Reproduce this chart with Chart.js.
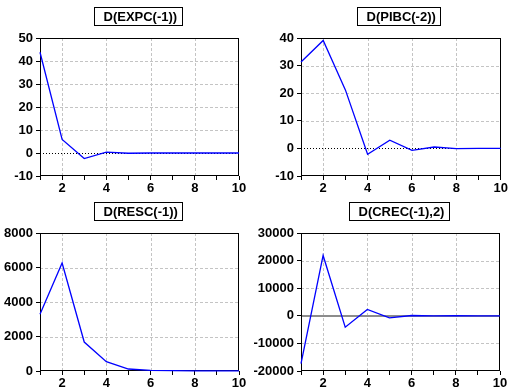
<!DOCTYPE html>
<html>
<head>
<meta charset="utf-8">
<script src="https://cdn.jsdelivr.net/npm/chart.js@4"></script>
<style>
  html, body { margin: 0; padding: 0; background: #fff; }
  #wrap { position: relative; width: 509px; height: 391px; overflow: hidden; background: #fff; }
  canvas { position: absolute; display: block; }
</style>
</head>
<body>
<div id="wrap">
  <canvas id="c1" width="254" height="195" style="left:0px;top:0px;"></canvas>
  <canvas id="c2" width="265" height="195" style="left:244px;top:0px;"></canvas>
  <canvas id="c3" width="254" height="196" style="left:0px;top:195px;"></canvas>
  <canvas id="c4" width="265" height="196" style="left:244px;top:195px;"></canvas>
</div>
<script>
// ---- data ----
const periods = [1, 2, 3, 4, 5, 6, 7, 8, 9, 10];
const titles = ['D(EXPC(-1))', 'D(PIBC(-2))', 'D(RESC(-1))', 'D(CREC(-1),2)'];
const expcResp = [43.8, 5.9, -2.4, 0.4, -0.1, 0.0, 0.0, 0.0, 0.0, 0.0];
const pibcResp = [31.3, 39.1, 21.2, -2.1, 3.0, -0.7, 0.5, -0.1, 0.0, 0.0];
const rescResp = [3290, 6260, 1680, 540, 115, 40, 20, 10, 5, 2];
const crecResp = [-17350, 21850, -4130, 2300, -730, 100, -20, 10, 0, 0];
const yMins = [-10, -10, 0, -20000];
const yMaxs = [50, 40, 8000, 30000];
const ySteps = [10, 10, 2000, 10000];
const xLabelEvery = 2;

const FAMILY = 'Arial, Liberation Sans, sans-serif';
Chart.defaults.font.family = FAMILY;
Chart.defaults.font.size = 13;
Chart.defaults.font.weight = 'bold';
Chart.defaults.color = '#000';

const panels = [
  { id: 'c1', values: expcResp, yW: 40, right: 15, xH: 19, zero: 'dot' },
  { id: 'c2', values: pibcResp, yW: 57, right: 8, xH: 19, zero: 'dot' },
  { id: 'c3', values: rescResp, yW: 40, right: 15, xH: 20, zero: 'none' },
  { id: 'c4', values: crecResp, yW: 57, right: 9, xH: 20, zero: 'gray' }
];

const framePlugin = {
  id: 'frame',
  beforeDatasetsDraw(chart, args, opts) {
    const { ctx, chartArea: a } = chart;
    const xs = chart.scales.x, ys = chart.scales.y;
    ctx.save();
    ctx.lineWidth = 1;
    ctx.strokeStyle = '#c4c4c4';
    ctx.setLineDash([3, 2]);
    ys.ticks.forEach(t => {
      if (t.value === ys.min || t.value === ys.max) return;
      if (t.value === 0 && opts.zero !== 'none') return;
      const y = Math.round(ys.getPixelForValue(t.value)) + 0.5;
      ctx.beginPath(); ctx.moveTo(a.left, y); ctx.lineTo(a.right, y); ctx.stroke();
    });
    xs.ticks.forEach(t => {
      if (t.value % xLabelEvery !== 0 || t.value === xs.min || t.value === xs.max) return;
      const x = Math.round(xs.getPixelForValue(t.value)) + 0.5;
      ctx.beginPath(); ctx.moveTo(x, a.top); ctx.lineTo(x, a.bottom); ctx.stroke();
    });
    if (opts.zero === 'dot') {
      const y = Math.round(ys.getPixelForValue(0)) + 0.5;
      ctx.strokeStyle = '#000';
      ctx.setLineDash([1, 2]);
      ctx.beginPath(); ctx.moveTo(a.left, y); ctx.lineTo(a.right, y); ctx.stroke();
    } else if (opts.zero === 'gray') {
      const y = Math.round(ys.getPixelForValue(0));
      ctx.strokeStyle = '#8c8c8c';
      ctx.lineWidth = 2;
      ctx.setLineDash([]);
      ctx.beginPath(); ctx.moveTo(a.left, y); ctx.lineTo(a.right, y); ctx.stroke();
    }
    // plot frame (under the data line)
    ctx.setLineDash([]);
    ctx.strokeStyle = '#000';
    ctx.lineWidth = 1;
    const l = Math.round(a.left) + 0.5, tp = Math.round(a.top) + 0.5;
    const r = Math.round(a.right) - 0.5, b = Math.round(a.bottom) - 0.5;
    ctx.strokeRect(l, tp, r - l, b - tp);
    ctx.restore();
  },
  afterDraw(chart, args, opts) {
    const { ctx, chartArea: a } = chart;
    ctx.save();
    ctx.setLineDash([]);
    ctx.lineWidth = 1;
    ctx.font = 'bold 13px ' + FAMILY;
    const tw = ctx.measureText(opts.title).width;
    const bw = Math.round(tw + 14);
    const cx = (a.left + a.right) / 2 - 2;
    const bx = Math.round(cx - bw / 2) + 0.5;
    const by = 7.5, bh = 18;
    ctx.fillStyle = '#fff';
    ctx.fillRect(bx, by, bw, bh);
    ctx.strokeStyle = '#000';
    ctx.strokeRect(bx, by, bw, bh);
    ctx.fillStyle = '#000';
    ctx.textBaseline = 'middle';
    ctx.textAlign = 'left';
    ctx.fillText(opts.title, bx + 9, by + bh / 2 + 1);
    ctx.restore();
  }
};

panels.forEach((p, i) => {
  const ctx = document.getElementById(p.id);
  new Chart(ctx, {
    type: 'line',
    data: {
      datasets: [{
        data: periods.map((x, k) => ({ x: x, y: p.values[k] })),
        borderColor: '#0000ff',
        borderWidth: 1.3,
        pointRadius: 0,
        tension: 0,
        fill: false,
        clip: false
      }]
    },
    options: {
      responsive: false,
      animation: false,
      devicePixelRatio: 1,
      layout: { padding: { left: 0, right: p.right, top: 38, bottom: 0 } },
      plugins: {
        legend: { display: false },
        tooltip: { enabled: false },
        title: { display: false },
        frame: { title: titles[i], zero: p.zero }
      },
      scales: {
        x: {
          type: 'linear',
          min: periods[0],
          max: periods[periods.length - 1],
          afterFit(s) { s.height = p.xH; },
          ticks: {
            stepSize: 1,
            autoSkip: false,
            maxRotation: 0,
            padding: 1,
            color: '#000',
            font: { size: 13, weight: 'bold' },
            callback: v => (v % xLabelEvery === 0 ? String(v) : '')
          },
          grid: { display: true, drawOnChartArea: false, drawTicks: true, tickLength: 4, color: '#000' },
          border: { display: false }
        },
        y: {
          type: 'linear',
          min: yMins[i],
          max: yMaxs[i],
          afterFit(s) { s.width = p.yW; },
          ticks: {
            stepSize: ySteps[i],
            padding: 3,
            color: '#000',
            font: { size: 13, weight: 'bold' },
            callback: v => String(v)
          },
          grid: { display: true, drawOnChartArea: false, drawTicks: true, tickLength: 4, color: '#000' },
          border: { display: false }
        }
      }
    },
    plugins: [framePlugin]
  });
});
</script>
</body>
</html>
